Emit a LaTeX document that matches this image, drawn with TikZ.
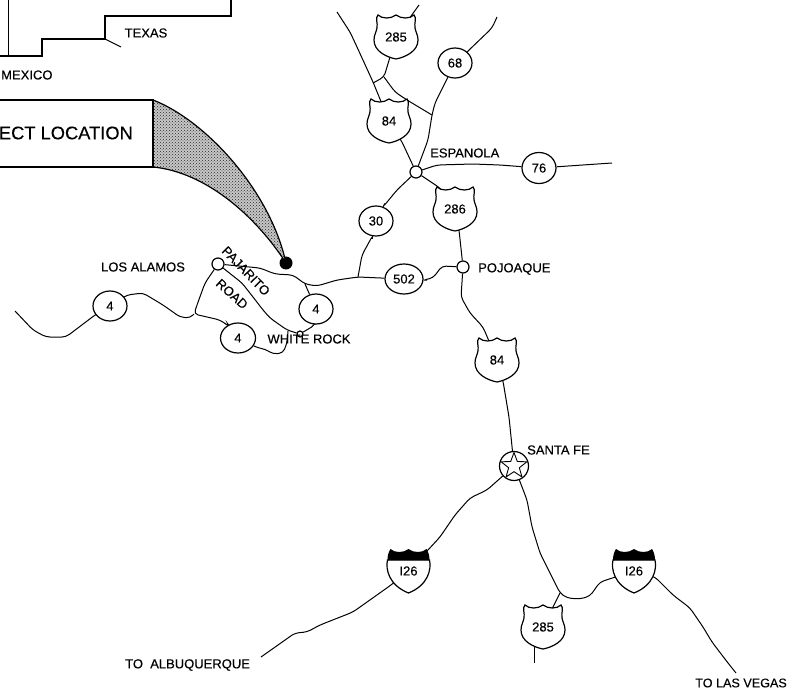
\documentclass[tikz,border=0pt]{standalone}
\usepackage{fontspec}
\setmainfont{Liberation Sans}[FakeBold=0.25]
\usetikzlibrary{patterns,backgrounds,shapes.geometric}
\tikzset{
    road/.style={line width=1pt,rounded corners=4pt},
    border/.style={line width=1.4pt},
    label/.style={font=\fontsize{13}{13}\selectfont,inner sep=0pt},
    route/.style={draw,ellipse,fill=white,line width=1.2pt,inner sep=0pt,minimum width=34pt,minimum height=30pt,font=\fontsize{13}{13}\selectfont},
    town/.style={draw,circle,fill=white,line width=1.2pt,inner sep=0pt,minimum size=12pt},
    shieldtext/.style={font=\fontsize{13}{13}\selectfont,inner sep=1pt}
}
% US highway shield
\newcommand{\usshield}[4]{
    \draw[line width=1.2pt,fill=white,shift={(#2,#3)}] (-18,-22) .. controls (-14,-18) and (-5,-18) .. (0,-22) .. controls (5,-18) and (14,-18) .. (18,-22) .. controls (21,-19) and (18,-14) .. (19,-9) .. controls (20,-4) and (22,-2) .. (22,3) .. controls (22,14) and (10,20) .. (0,22) .. controls (-10,20) and (-22,14) .. (-22,3) .. controls (-22,-2) and (-20,-4) .. (-19,-9) .. controls (-18,-14) and (-21,-19) .. (-18,-22) -- cycle;
    \node[shieldtext] (#1) at (#2,#3) {#4};
}
% interstate shield
\newcommand{\ishield}[3]{
    \draw[line width=1.2pt,fill=white,shift={(#2,#3)}] (-21,-11) .. controls (-23,-2) and (-20,14) .. (0,22) .. controls (20,14) and (23,-2) .. (21,-11) -- cycle;
    \fill[shift={(#2,#3)}] (-21,-11) .. controls (-21,-15) and (-20,-19) .. (-18,-22) .. controls (-14,-18) and (-5,-18) .. (0,-22) .. controls (5,-18) and (14,-18) .. (18,-22) .. controls (20,-19) and (21,-15) .. (21,-11) -- cycle;
    \node[shieldtext] (#1) at (#2,#3) {I26};
}
\begin{document}
\begin{tikzpicture}[x=1pt,y=-1pt]
    \useasboundingbox (0,0) rectangle (787,693);

    % state line
    \draw[border] (231,0) -- (231,16) -- (105,16) -- (105,39) -- (42,39) -- (42,56) -- (0,56);
    \draw[line width=1pt] (8,0) -- (8,56);
    \draw[line width=1pt] (105,39) -- (121,47);
    \node[label] (texas) at (146,33) {TEXAS};
    \node[label,anchor=west] (mexico) at (1,75) {MEXICO};

    % location callout
    \node[circle,fill=black,inner sep=0pt,minimum size=13pt] (site) at (286,263) {};
    \coordinate (boxtop) at (153,100);
    \coordinate (boxbot) at (153,167);
    \filldraw[line width=1.2pt,preaction={fill=black!22},pattern=crosshatch dots,pattern color=black!85] (boxtop) .. controls (205,120) and (270,190) .. (site.center) .. controls (255,215) and (205,172) .. (boxbot) -- cycle;
    \draw[line width=1.8pt] (0,100) -- (boxtop) -- (boxbot) -- (0,167);
    \node[inner sep=0pt,anchor=east,font=\fontsize{18.3}{18}\selectfont] (location) at (133,133) {ECT LOCATION};

    % towns
    \node[town] (espanola) at (416,172) {};
    \node[town] (pojoaque) at (463,267) {};
    \node[town] (losalamos) at (218,264) {};
    \node[town,minimum size=6pt] (whiterock) at (300,334) {};
    \node[town,minimum size=29pt] (santafe) at (514,466) {};
    \node[draw,star,star points=5,star point ratio=2.4,line width=0.9pt,inner sep=0pt,minimum size=27pt] (santastar) at (514,466) {};

    % state routes
    \node[route] (rsixeight) at (455,63) {68};
    \node[route,minimum height=31pt] (rseventysix) at (539,168) {76};
    \node[route] (rthirty) at (376,221) {30};
    \node[route,minimum width=38pt] (rfivezerotwo) at (404,279) {502};
    \node[route] (rfourwest) at (110,306) {4};
    \node[route,minimum width=35pt] (rfoursouth) at (238,338) {4};
    \node[route] (rfoureast) at (316,309) {4};

    % shields
    \usshield{ustop}{396}{37}{285}
    \usshield{usespanola}{389}{121}{84}
    \usshield{uspojoaque}{455}{209}{286}
    \usshield{ussanta}{497}{360}{84}
    \usshield{ussouth}{543}{627}{285}
    \ishield{iwest}{408.5}{571}
    \ishield{ieast}{634}{571}

    % labels
    \node[label] (losalamoslabel) at (143,267) {LOS ALAMOS};
    \node[label,rotate=-46] (pajarito) at (246,271) {PAJARITO};
    \node[label,rotate=-42] (pajroad) at (232,294) {ROAD};
    \node[label] (whiterocklabel) at (309,339) {WHITE ROCK};
    \node[label,anchor=west] (espanolalabel) at (430,153) {ESPANOLA};
    \node[label,anchor=west] (pojoaquelabel) at (478,269) {POJOAQUE};
    \node[label,anchor=west] (santafelabel) at (527,450) {SANTA FE};
    \node[label,anchor=west] (albuquerque) at (125,665) {TO\ \ ALBUQUERQUE};
    \node[label,anchor=east,font=\fontsize{12.6}{13}\selectfont] (lasvegas) at (787,683) {TO LAS VEGAS};

    % junctions and free road ends
    \coordinate (jctnorth) at (432,115);
    \coordinate (jcttop) at (384,77);
    \coordinate (jctrio) at (358,277);
    \coordinate (jctpaj) at (305,284);
    \coordinate (jctwest) at (194,314);
    \coordinate (jctsouth) at (560,593);
    \coordinate (endnw) at (337,12);
    \coordinate (endtop) at (419,5);
    \coordinate (endne) at (497,17);
    \coordinate (endeast) at (612,163);
    \coordinate (endwest) at (15,311);
    \coordinate (endalb) at (261,657);
    \coordinate (endveg) at (736,673);
    \coordinate (startsouth) at (534,640);
    \coordinate (endsouth) at (534,663);

    \begin{scope}[on background layer]
        % north of Espanola
        \draw[road] (endnw) -- (350,32) -- (357,47) -- (373,82) -- (usespanola);
        \draw[road] (ustop) -- (endtop);
        \draw[road] (ustop) -- (jcttop) -- (373,83);
        \draw[road] (jcttop) -- (395,92) -- (407,100) -- (jctnorth);
        \draw[road] (rsixeight) -- (435,103) -- (jctnorth) -- (428,140) -- (espanola);
        \draw[road] (rsixeight) -- (467,52) -- (492,28) -- (endne);
        \draw[road] (usespanola) -- (402,142) -- (espanola);
        % east and south of Espanola
        \draw[road] (espanola) -- (437,165) -- (473,164) -- (500,165) -- (rseventysix);
        \draw[road] (rseventysix) -- (endeast);
        \draw[road] (espanola) -- (397,190) -- (383,207) -- (rthirty);
        \draw[road] (espanola) -- (440,188) -- (uspojoaque);
        \draw[road] (rthirty) -- (373,235) -- (362,255) -- (jctrio);
        \draw[road] (uspojoaque) -- (459,230) -- (pojoaque);
        \draw[road] (pojoaque) -- (442,266) -- (433,278) -- (423,280) -- (rfivezerotwo);
        % highway 502 to Los Alamos
        \draw[road] (rfivezerotwo) -- (jctrio) -- (337,280) -- (317,286) -- (jctpaj) -- (293,275) -- (275,274) -- (260,268) -- (losalamos);
        \draw[road] (jctpaj) -- (rfoureast);
        \draw[road] (losalamos) -- (205,283) -- (197,305) -- (jctwest) -- (220,320) -- (230,327) -- (rfoursouth);
        \draw[road] (rfourwest) -- (127,295) -- (143,293) -- (163,305) -- (180,317) -- (190,318) -- (jctwest);
        \draw[road] (rfourwest) -- (95,315) -- (66,337) -- (46,337) -- (33,330) -- (endwest);
        \draw[road] (losalamos) -- (242,283) -- (253,297) -- (263,310) -- (270,318) -- (287,330) -- (whiterock);
        \draw[road] (whiterock) -- (315,325) -- (rfoureast);
        \draw[road] (rfoursouth) -- (258,348) -- (265,349) -- (273,354) -- (283,353) -- (287,343) -- (288,331);
        % south to Santa Fe
        \draw[road] (pojoaque) -- (461,297) -- (470,313) -- (483,327) -- (ussanta);
        \draw[road] (ussanta) -- (503,381) -- (509,417) -- (santafe);
        \draw[road] (santafe) -- (487,490) -- (470,498) -- (455,515) -- (440,537) -- (iwest);
        \draw[road] (iwest) -- (391,585) -- (353,612) -- (320,625) -- (307,632) -- (295,633) -- (endalb);
        \draw[road] (santafe) -- (527,500) -- (532,527) -- (540,553) -- (550,573) -- (jctsouth) -- (567,598) -- (580,599) -- (590,596) -- (600,582) -- (ieast);
        \draw[road] (jctsouth) -- (ussouth);
        \draw[road] (startsouth) -- (endsouth);
        \draw[road] (ieast) -- (655,577) -- (673,595) -- (690,608) -- (703,627) -- (712,642) -- (728,663) -- (endveg);
    \end{scope}

\end{tikzpicture}
\end{document}
